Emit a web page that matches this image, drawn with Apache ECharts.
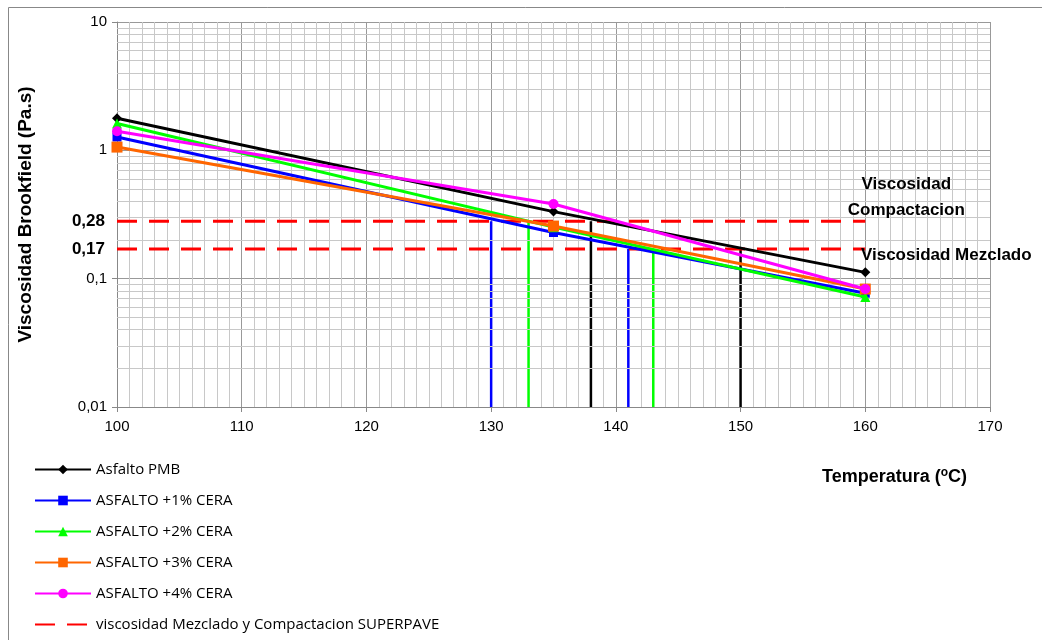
<!DOCTYPE html>
<html>
<head>
<meta charset="utf-8">
<script src="https://cdn.jsdelivr.net/npm/echarts@6/dist/echarts.min.js"></script>
<style>html,body{margin:0;padding:0;background:#fff}#c{width:1042px;height:640px}</style>
</head>
<body>
<div id="c"></div>
<script>
// ---- data ----
const temps = [100, 135, 160];
const pmb   = [1.78, 0.333, 0.112];
const cera1 = [1.27, 0.229, 0.077];
const cera2 = [1.62, 0.252, 0.072];
const cera3 = [1.06, 0.257, 0.083];
const cera4 = [1.41, 0.382, 0.083];
const seriesNames = ['Asfalto PMB', 'ASFALTO +1% CERA', 'ASFALTO +2% CERA', 'ASFALTO +3% CERA', 'ASFALTO +4% CERA'];
const refName = 'viscosidad Mezclado y Compactacion SUPERPAVE';
const viscCompact = 0.28;
const viscMezcla = 0.17;
const refLabels = ['0,28', '0,17'];
const refTexts = ['Viscosidad\nCompactacion', 'Viscosidad Mezclado'];
const refRange = [100, 160];
// temperature crossings (compactacion / mezclado) per material
const crossPMB = [138, 150];
const cross1 = [130, 141];
const cross2 = [133, 143];
const yMin = 0.01, yMax = 10;
const xMin = 100, xMax = 170;
const minorLogVals = [];
[0.01, 0.1, 1].forEach(d => { for (let k = 2; k <= 9; k++) minorLogVals.push(+(d * k).toPrecision(2)); });

const colors = ['#000000', '#0000ff', '#00ff00', '#ff6600', '#ff00ff'];
const symbols = ['diamond', 'rect', 'triangle', 'rect', 'circle'];
const symSizes = [10, 9, 10, 11, 10];
const vals = [pmb, cera1, cera2, cera3, cera4];
const FONT = 'Liberation Sans';

const series = [];
// minor horizontal gridlines (log axis 2..9)
series.push({
  type: 'line', name: '_grid', data: [], silent: true, z: 1,
  markLine: { silent: true, symbol: 'none', label: { show: false }, animation: false,
    lineStyle: { color: '#c8c8c8', width: 1, type: 'solid' },
    data: minorLogVals.map(v => ({ yAxis: v })) }
});
vals.forEach((arr, i) => {
  series.push({
    type: 'line', name: seriesNames[i], z: 5 + i,
    data: temps.map((t, j) => [t, arr[j]]),
    symbol: symbols[i], symbolSize: symSizes[i], showSymbol: true,
    itemStyle: { color: colors[i] },
    lineStyle: { color: colors[i], width: 3 }
  });
});
// reference dashed lines
const labelOffsets = [[41, -24], [81, 6]];
[viscCompact, viscMezcla].forEach((v, i) => {
  series.push({
    type: 'line', name: refName, z: 4, symbol: 'none', showSymbol: false,
    itemStyle: { color: '#ff0000' },
    lineStyle: { color: '#ff0000', width: 3, type: [20, 12] },
    data: [[refRange[0], v], [refRange[1], v]],
    markPoint: {
      silent: true, symbol: 'circle', symbolSize: 0, animation: false,
      data: [
        { coord: [refRange[0], v], label: { show: true, position: 'left', distance: 12, formatter: refLabels[i], fontSize: 17, fontWeight: 'bold', color: '#000', fontFamily: FONT } },
        { coord: [refRange[1], v], label: { show: true, position: 'inside', offset: labelOffsets[i], formatter: refTexts[i], fontSize: 17, fontWeight: 'bold', color: '#000', align: 'center', verticalAlign: 'middle', lineHeight: 26, fontFamily: FONT } }
      ]
    }
  });
});
// vertical drop lines
[[crossPMB, '#000000'], [cross1, '#0000ff'], [cross2, '#00ff00']].forEach(c => {
  [[c[0][0], viscCompact], [c[0][1], viscMezcla]].forEach(p => {
    series.push({
      type: 'line', name: '_v', z: 3, symbol: 'none', silent: true,
      lineStyle: { color: c[1], width: 2.5 },
      data: [[p[0], yMin], [p[0], p[1]]]
    });
  });
});

const chart = echarts.init(document.getElementById('c'));
chart.setOption({
  animation: false,
  backgroundColor: '#fff',
  grid: { left: 117, right: 52, top: 22, bottom: 233, containLabel: false },
  xAxis: {
    type: 'value', min: xMin, max: xMax, interval: 10,
    axisLine: { show: true, lineStyle: { color: '#888', width: 1 } },
    axisTick: { show: true, length: 5, lineStyle: { color: '#888' } },
    axisLabel: { color: '#000', fontSize: 15, margin: 12, fontFamily: FONT },
    splitLine: { show: true, lineStyle: { color: '#999', width: 1 } },
    minorTick: { show: false, splitNumber: 10 },
    minorSplitLine: { show: true, lineStyle: { color: '#c8c8c8', width: 1 } }
  },
  yAxis: {
    type: 'log', logBase: 10, min: yMin, max: yMax,
    name: 'Viscosidad Brookfield (Pa.s)', nameLocation: 'middle', nameGap: 82,
    nameTextStyle: { fontSize: 19, fontWeight: 'bold', color: '#000', fontFamily: FONT },
    axisLine: { show: true, lineStyle: { color: '#888', width: 1 } },
    axisTick: { show: true, length: 5, lineStyle: { color: '#888' } },
    axisLabel: { color: '#000', fontSize: 15, margin: 10, fontFamily: FONT,
      formatter: v => { const e = Math.round(Math.log10(v)); return e >= 0 ? String(Math.pow(10, e)) : '0,' + '0'.repeat(-e - 1) + '1'; } },
    splitLine: { show: true, lineStyle: { color: '#999', width: 1 } },
    minorSplitLine: { show: false }
  },
  legend: {
    orient: 'vertical', left: 29, top: 456, height: 184, itemWidth: 56, itemHeight: 12, itemGap: 14,
    data: seriesNames.concat([{ name: refName, itemStyle: { opacity: 0 } }]),
    textStyle: { fontSize: 15, color: '#000', fontFamily: 'Open Sans', lineHeight: 17 }
  },
  graphic: [
    { type: 'rect', shape: { x: 8.5, y: 7.5, width: 1040, height: 640 }, style: { fill: 'none', stroke: '#888', lineWidth: 1 }, z: -1, silent: true },
    { type: 'text', left: 822, top: 467, style: {
      text: '{a|Temperatura (}{s|o}{a|C)}',
      rich: { a: { fontSize: 18, fontWeight: 'bold', fill: '#000', fontFamily: FONT },
              s: { fontSize: 12, fontWeight: 'bold', fill: '#000', fontFamily: FONT, verticalAlign: 'top', padding: [0, 0, 9, 0] } } } }
  ],
  series: series
});
</script>
</body>
</html>
